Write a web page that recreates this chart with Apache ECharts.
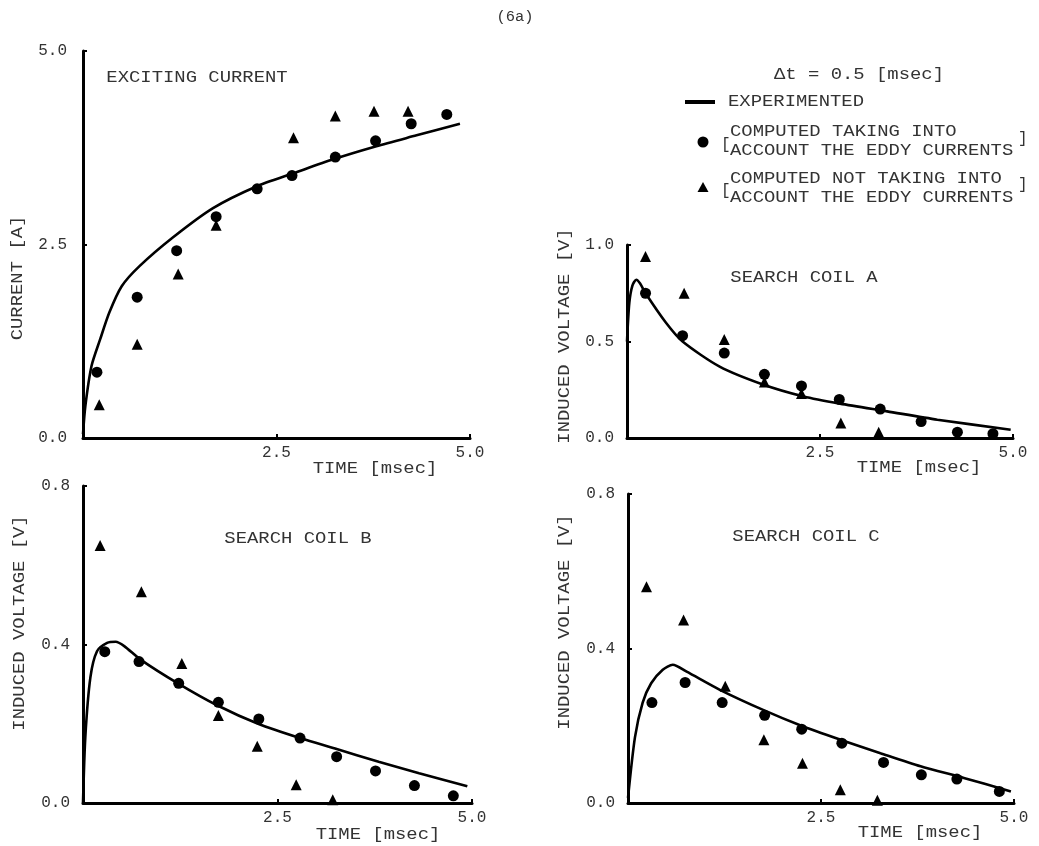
<!DOCTYPE html>
<html><head><meta charset="utf-8">
<script src="https://cdn.jsdelivr.net/npm/echarts@6/dist/echarts.min.js"></script>
<style>html,body{margin:0;padding:0;background:#fff}#c{width:1039px;height:846px}</style>
</head><body><div id="c"></div>
<script>
// ---------- DATA ----------
const xTicks = [0, 2.5, 5.0];
const yTicksCurrent = [0, 2.5, 5.0];
const yTicksA = [0, 0.5, 1.0];
const yTicksBC = [0, 0.4, 0.8];

// Exciting current [A] vs time [msec]
const curExp = [[0,0.05],[0.03,0.41],[0.11,0.93],[0.22,1.27],[0.34,1.62],[0.5,1.96],[0.73,2.22],[1.16,2.59],[1.68,2.97],[2.24,3.25],[2.72,3.42],[3.23,3.6],[3.79,3.77],[4.31,3.91],[4.87,4.06]];
const curEddy = [[0.18,0.85],[0.70,1.82],[1.21,2.42],[1.72,2.86],[2.25,3.22],[2.70,3.39],[3.26,3.63],[3.78,3.84],[4.24,4.06],[4.70,4.18]];
const curNoEddy = [[0.21,0.43],[0.70,1.21],[1.23,2.12],[1.72,2.75],[2.72,3.88],[3.26,4.16],[3.76,4.22],[4.20,4.22]];

// Search coil A [V]
const aExp = [[0,0.5],[0.03,0.70],[0.07,0.79],[0.12,0.82],[0.17,0.80],[0.24,0.75],[0.5,0.60],[0.72,0.50],[1.2,0.37],[1.77,0.276],[2.29,0.215],[2.76,0.178],[3.37,0.138],[4.02,0.095],[4.97,0.043]];
const aEddy = [[0.24,0.75],[0.72,0.53],[1.26,0.44],[1.78,0.33],[2.26,0.27],[2.75,0.20],[3.28,0.15],[3.81,0.085],[4.28,0.03],[4.74,0.022]];
const aNoEddy = [[0.24,0.94],[0.74,0.75],[1.26,0.51],[1.78,0.29],[2.26,0.23],[2.77,0.078],[3.26,0.03]];

// Search coil B [V]
const bExp = [[0,0],[0.03,0.167],[0.095,0.317],[0.18,0.383],[0.31,0.404],[0.42,0.407],[0.53,0.396],[0.74,0.362],[1.22,0.302],[1.73,0.246],[2.25,0.2],[2.81,0.1625],[3.24,0.1375],[3.8,0.104],[4.32,0.075],[4.94,0.042]];
const bEddy = [[0.28,0.382],[0.72,0.357],[1.23,0.302],[1.74,0.254],[2.26,0.212],[2.79,0.164],[3.26,0.117],[3.76,0.081],[4.26,0.044],[4.76,0.018]];
const bNoEddy = [[0.22,0.65],[0.75,0.533],[1.27,0.352],[1.74,0.221],[2.24,0.143],[2.74,0.046],[3.21,0.008]];

// Search coil C [V]
const cExp = [[0,0.013],[0.09,0.17],[0.19,0.26],[0.30,0.31],[0.45,0.345],[0.58,0.358],[0.76,0.34],[1.19,0.293],[1.75,0.241],[2.27,0.198],[2.75,0.164],[3.27,0.129],[3.79,0.095],[4.35,0.065],[4.96,0.030]];
const cEddy = [[0.31,0.26],[0.74,0.312],[1.22,0.26],[1.77,0.227],[2.25,0.191],[2.77,0.155],[3.31,0.105],[3.80,0.073],[4.26,0.062],[4.81,0.030]];
const cNoEddy = [[0.24,0.56],[0.72,0.474],[1.26,0.302],[1.76,0.164],[2.26,0.103],[2.75,0.034],[3.23,0.007]];

// ---------- CHART ----------
const FONT = '"Liberation Mono", "DejaVu Sans Mono", monospace';
const INK = '#000';
const TXT = '#333';

const grids = [
  {left:83, top:51, width:387, height:387},
  {left:627, top:245, width:386, height:193},
  {left:83, top:486, width:389, height:317},
  {left:628, top:494, width:386, height:309}
];
const yTickSets = [yTicksCurrent, yTicksA, yTicksBC, yTicksBC];
const panels = [
  [curExp, curEddy, curNoEddy],
  [aExp, aEddy, aNoEddy],
  [bExp, bEddy, bNoEddy],
  [cExp, cEddy, cNoEddy]
];

const axisLineStyle = {show:true, onZero:false, lineStyle:{color:INK, width:3}};
const axisTick = {show:true, inside:true, length:4, lineStyle:{color:INK, width:2}};
const labelStyle = {color:TXT, fontFamily:FONT, fontSize:16};

const xAxes = grids.map((g,i)=>({
  type:'value', gridIndex:i, min:xTicks[0], max:xTicks[xTicks.length-1], interval:xTicks[1]-xTicks[0],
  axisLine:axisLineStyle, axisTick:axisTick, splitLine:{show:false},
  axisLabel:Object.assign({margin:7, formatter:v=> v===0 ? '' : v.toFixed(1)}, labelStyle)
}));
const yAxes = grids.map((g,i)=>{
  const t = yTickSets[i];
  return {
    type:'value', gridIndex:i, min:t[0], max:t[t.length-1], interval:t[1]-t[0],
    axisLine:axisLineStyle, axisTick:axisTick, splitLine:{show:false},
    axisLabel:Object.assign({margin:i===0?16:13, formatter:v=>v.toFixed(1)}, labelStyle)
  };
});

const series = [];
panels.forEach((p,i)=>{
  series.push({type:'line', xAxisIndex:i, yAxisIndex:i, data:p[0], smooth:0.25,
    showSymbol:false, lineStyle:{color:INK, width:2.6}, z:2, silent:true});
  series.push({type:'scatter', xAxisIndex:i, yAxisIndex:i, data:p[1], symbol:'circle', symbolSize:11,
    itemStyle:{color:INK, opacity:1}, z:3});
  series.push({type:'scatter', xAxisIndex:i, yAxisIndex:i, data:p[2], symbol:'triangle', symbolSize:11,
    itemStyle:{color:INK, opacity:1}, z:3});
});

function txt(x, y, s, opt){
  opt = opt || {};
  return {
    type:'text', x:x, y:y, rotation:opt.rot||0, scaleX:opt.sx||1.18, z:10,
    style:{text:s, fill:opt.fill||TXT, font:(opt.size||16)+'px '+FONT,
      textAlign:opt.align||'center', align:opt.align||'center',
      textVerticalAlign:'middle', verticalAlign:'middle'}
  };
}

const graphics = [
  txt(515, 17, '(6a)', {size:14, sx:1.1}),
  // panel titles
  txt(197, 78, 'EXCITING CURRENT'),
  txt(804, 278, 'SEARCH COIL A'),
  txt(298, 539, 'SEARCH COIL B'),
  txt(806, 537, 'SEARCH COIL C'),
  // x axis names
  txt(375, 469, 'TIME [msec]'),
  txt(919, 468, 'TIME [msec]'),
  txt(378, 835, 'TIME [msec]'),
  txt(920, 833, 'TIME [msec]'),
  // y axis names
  txt(18, 278, 'CURRENT [A]', {rot:Math.PI/2}),
  txt(565, 336, 'INDUCED VOLTAGE [V]', {rot:Math.PI/2}),
  txt(20, 623, 'INDUCED VOLTAGE [V]', {rot:Math.PI/2}),
  txt(565, 622, 'INDUCED VOLTAGE [V]', {rot:Math.PI/2}),
  // legend
  txt(859, 75, '\u0394t = 0.5 [msec]'),
  {type:'line', shape:{x1:685, y1:102, x2:715, y2:102}, style:{stroke:INK, lineWidth:4}, z:10},
  txt(728, 102, 'EXPERIMENTED', {align:'left'}),
  {type:'circle', shape:{cx:703, cy:142, r:5.5}, style:{fill:INK}, z:10},
  txt(721, 145, '[', {align:'left', sx:1}),
  txt(730, 132, 'COMPUTED TAKING INTO', {align:'left'}),
  txt(730, 151, 'ACCOUNT THE EDDY CURRENTS', {align:'left'}),
  txt(1018, 139, ']', {align:'left', sx:1}),
  {type:'polygon', shape:{points:[[703,182],[697.5,192],[708.5,192]]}, style:{fill:INK}, z:10},
  txt(721, 191, '[', {align:'left', sx:1}),
  txt(730, 179, 'COMPUTED NOT TAKING INTO', {align:'left'}),
  txt(730, 198, 'ACCOUNT THE EDDY CURRENTS', {align:'left'}),
  txt(1018, 185, ']', {align:'left', sx:1})
];

const chart = echarts.init(document.getElementById('c'), null, {renderer:'canvas'});
chart.setOption({
  backgroundColor:'#fff',
  animation:false,
  grid: grids.map(g=>Object.assign({outerBoundsMode:'none', containLabel:false}, g)),
  xAxis:xAxes,
  yAxis:yAxes,
  series:series,
  graphic:graphics
});
</script>
</body></html>
